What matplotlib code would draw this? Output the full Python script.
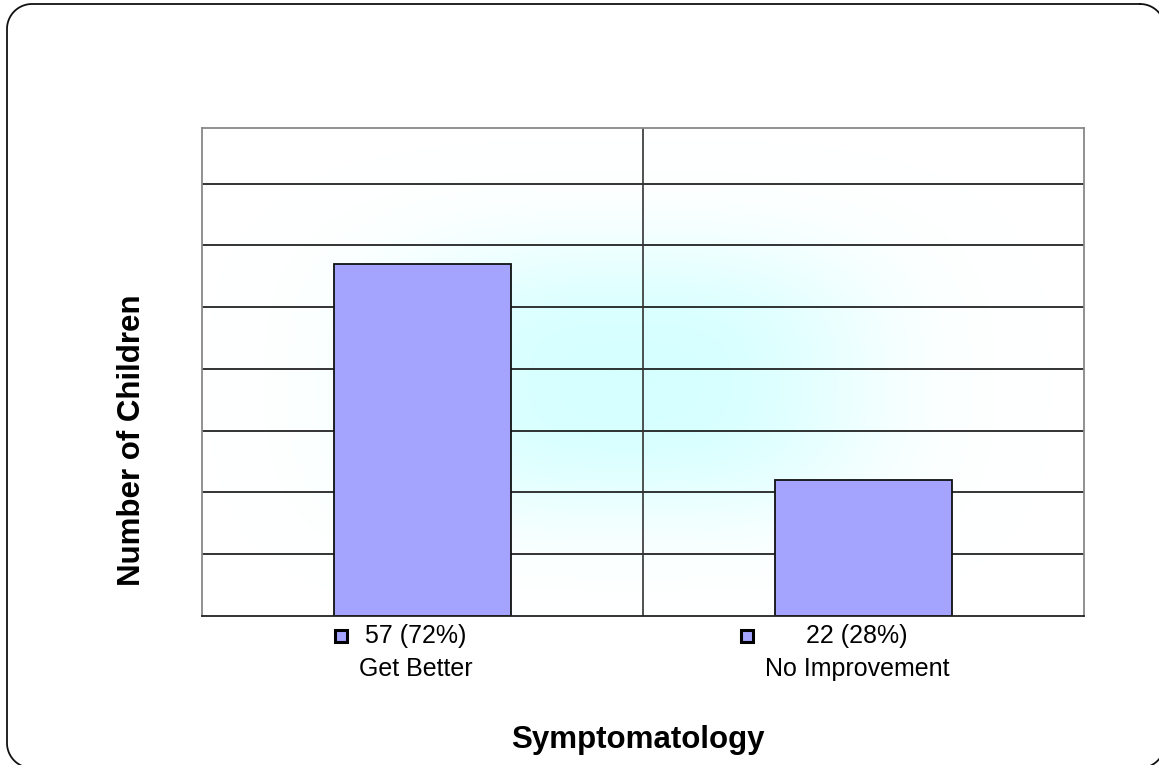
import numpy as np
import matplotlib.pyplot as plt
from matplotlib.colors import LinearSegmentedColormap
import matplotlib.transforms as mtransforms

plt.rcParams['font.family'] = ['Liberation Sans', 'DejaVu Sans']

categories = ["Get Better", "No Improvement"]
counts = [57, 22]
percents = [72, 28]
total = sum(counts)
yticks = [10, 20, 30, 40, 50, 60, 70]

bar_color = "#a4a4ff"

fig = plt.figure(figsize=(11.59, 7.65), dpi=100)

# outer rounded frame in pixel units; right and bottom run off the page
bg = fig.add_axes([0, 0, 1, 1])
bg.set_xlim(0, 1159)
bg.set_ylim(765, 0)
bg.axis("off")
x0, y0, x1, y1, r = 7, 4, 1165, 768, 25
pts = []
for cx, cy, a0 in [(x1 - r, y0 + r, -90), (x1 - r, y1 - r, 0), (x0 + r, y1 - r, 90), (x0 + r, y0 + r, 180)]:
    a = np.radians(np.linspace(a0, a0 + 90, 30))
    pts.append(np.column_stack([cx + r * np.cos(a), cy + r * np.sin(a)]))
pts = np.vstack(pts + [pts[0][:1]])
bg.plot(pts[:, 0], pts[:, 1], color="#111111", linewidth=1.3, clip_on=True)

ax = fig.add_axes([202 / 1159, 1 - 616 / 765, 882 / 1159, 488 / 765])
x = np.arange(len(categories))
ax.set_xlim(-0.5, len(categories) - 0.5)
ax.set_ylim(0, total)

# soft cyan glow behind the grid
gx = np.linspace(-0.5, 1.5, 400)
gy = np.linspace(0, total, 300)
GX, GY = np.meshgrid(gx, gy)
u = (GX - 0.47) / 0.68
v = (GY - 38) / 28
w = np.exp(-2.0 * (np.abs(u) ** 3 + np.abs(v) ** 3))
cmap = LinearSegmentedColormap.from_list("glow", ["#ffffff", "#d6ffff"])
ax.imshow(w, extent=(-0.5, 1.5, 0, total), origin="lower", aspect="auto",
          cmap=cmap, vmin=0, vmax=1, zorder=0, interpolation="bilinear")

for yv in yticks:
    ax.axhline(yv, color="#111111", linewidth=1.2, zorder=1)
ax.axvline(0.5, color="#333333", linewidth=1.2, zorder=1)

ax.bar(x, counts, width=0.4, color=bar_color, edgecolor="#111111", linewidth=1.3, zorder=2)

for side in ["top", "left", "right"]:
    ax.spines[side].set_color("#888888")
    ax.spines[side].set_linewidth(1.3)
ax.spines["bottom"].set_color("#222222")
ax.spines["bottom"].set_linewidth(1.3)
ax.set_xticks([])
ax.set_yticks([])

trans = mtransforms.blended_transform_factory(ax.transData, ax.transAxes)
fig.canvas.draw()
renderer = fig.canvas.get_renderer()
for i, (cat, n, p) in enumerate(zip(categories, counts, percents)):
    t1 = ax.text(x[i] - 0.015, -0.042, f"{n} ({p}%)", transform=trans, ha="center", va="center", fontsize=18)
    t2 = ax.text(x[i] - 0.015, -0.108, cat, transform=trans, ha="center", va="center", fontsize=18)
    b1 = t1.get_window_extent(renderer)
    b2 = t2.get_window_extent(renderer)
    left_px = min(b1.x0, b2.x0) - 18
    mx = ax.transData.inverted().transform((left_px, 0))[0]
    ax.plot([mx], [-0.042], transform=trans, marker="s", markersize=9,
            markerfacecolor=bar_color, markeredgecolor="black", markeredgewidth=2.2,
            clip_on=False, linestyle="none")

fig.text(132 / 1159, 1 - 440 / 765, "Number of Children", rotation=90, ha="center", va="center",
         fontsize=22.5, fontweight="bold")
fig.text(638 / 1159, 1 - 740 / 765, "Symptomatology", ha="center", va="center",
         fontsize=22.5, fontweight="bold")

fig.savefig("out.png", dpi=100)
